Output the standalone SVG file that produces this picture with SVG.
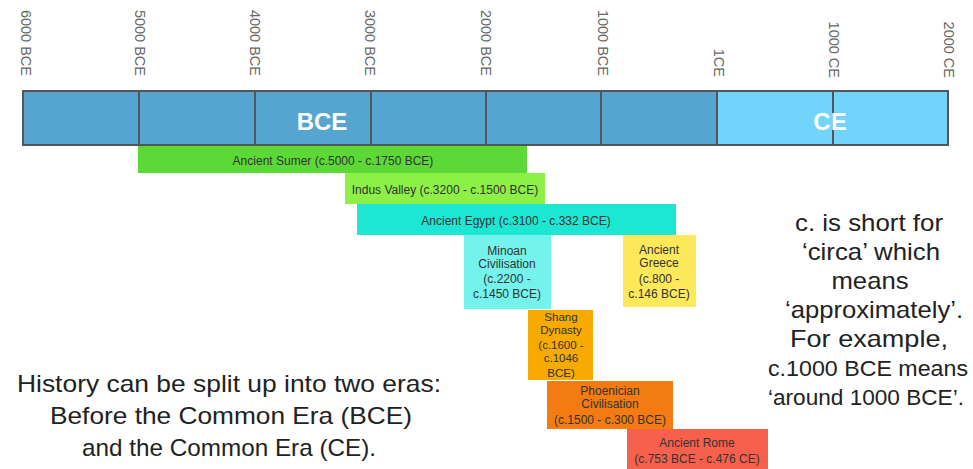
<svg xmlns="http://www.w3.org/2000/svg" width="973" height="469" viewBox="0 0 973 469">
<style>
text{font-family:"Liberation Sans",Arial,sans-serif}
.tick{font-size:14.5px;fill:#666;text-anchor:end}
.div{stroke:#555;stroke-width:2}
.era{font-size:24px;font-weight:bold;fill:#fff;text-anchor:middle}
.lbl{font-size:12px;fill:#333;text-anchor:middle}
.sm{font-size:11.5px}
.note{font-size:24px;fill:#222;text-anchor:middle}
.tight{font-size:22.5px}
</style>
<rect width="973" height="469" fill="#fff"/>
<g id="ticks">
<text class="tick" transform="translate(21,76) rotate(90)">6000 BCE</text>
<text class="tick" transform="translate(135,76) rotate(90)">5000 BCE</text>
<text class="tick" transform="translate(250,76) rotate(90)">4000 BCE</text>
<text class="tick" transform="translate(365,76) rotate(90)">3000 BCE</text>
<text class="tick" transform="translate(481,76) rotate(90)">2000 BCE</text>
<text class="tick" transform="translate(598,76) rotate(90)">1000 BCE</text>
<text class="tick" transform="translate(714,77) rotate(90)">1CE</text>
<text class="tick" transform="translate(829,78) rotate(90)">1000 CE</text>
<text class="tick" transform="translate(944,78) rotate(90)">2000 CE</text>
</g>
<g id="timeline">
<rect x="23" y="91" width="694" height="54" fill="#55a5d0"/>
<rect x="717" y="91" width="231" height="54" fill="#72d4fa"/>
<rect x="23" y="91" width="925" height="54" fill="none" stroke="#555" stroke-width="2"/>
<line class="div" x1="139" y1="91" x2="139" y2="145"/>
<line class="div" x1="255" y1="91" x2="255" y2="145"/>
<line class="div" x1="371" y1="91" x2="371" y2="145"/>
<line class="div" x1="486" y1="91" x2="486" y2="145"/>
<line class="div" x1="601" y1="91" x2="601" y2="145"/>
<line class="div" x1="717" y1="91" x2="717" y2="145"/>
<line class="div" x1="833" y1="91" x2="833" y2="145"/>
<text class="era" x="322" y="130">BCE</text>
<text class="era" x="830" y="130">CE</text>
</g>
<g id="sumer">
<rect x="138" y="146" width="389" height="27" fill="#5cd936"/>
<text class="lbl" x="333" y="165">Ancient Sumer (c.5000 - c.1750 BCE)</text>
</g>
<g id="indus">
<rect x="345" y="173" width="200" height="31" fill="#8cf046"/>
<text class="lbl" x="445" y="194">Indus Valley (c.3200 - c.1500 BCE)</text>
</g>
<g id="egypt">
<rect x="357" y="204" width="319" height="31" fill="#1de6d2"/>
<text class="lbl" x="516" y="225">Ancient Egypt (c.3100 - c.332 BCE)</text>
</g>
<g id="minoan">
<rect x="464" y="235" width="87" height="74" fill="#74f2ec"/>
<text class="lbl" x="507" y="255">Minoan</text>
<text class="lbl" x="507" y="268">Civilisation</text>
<text class="lbl" x="507" y="283">(c.2200 -</text>
<text class="lbl" x="507" y="298">c.1450 BCE)</text>
</g>
<g id="greece">
<rect x="623" y="235" width="73" height="72" fill="#fde95a"/>
<text class="lbl" x="659" y="254">Ancient</text>
<text class="lbl" x="659" y="267">Greece</text>
<text class="lbl" x="659" y="283">(c.800 -</text>
<text class="lbl" x="659" y="298">c.146 BCE)</text>
</g>
<g id="shang">
<rect x="528" y="310" width="65" height="70" fill="#f7aa00"/>
<text class="lbl sm" x="561" y="321">Shang</text>
<text class="lbl sm" x="561" y="334">Dynasty</text>
<text class="lbl sm" x="561" y="349">(c.1600 -</text>
<text class="lbl sm" x="561" y="362">c.1046</text>
<text class="lbl sm" x="561" y="377">BCE)</text>
</g>
<g id="phoenician">
<rect x="547" y="381" width="126" height="48" fill="#f47a12"/>
<text class="lbl" x="610" y="395">Phoenician</text>
<text class="lbl" x="610" y="408">Civilisation</text>
<text class="lbl" x="610" y="424">(c.1500 - c.300 BCE)</text>
</g>
<g id="rome">
<rect x="627" y="429" width="141" height="40" fill="#f8604e"/>
<text class="lbl" x="697" y="447">Ancient Rome</text>
<text class="lbl" x="697" y="463">(c.753 BCE - c.476 CE)</text>
</g>
<g id="eras-note">
<text class="note" x="229" y="392" textLength="424" lengthAdjust="spacingAndGlyphs">History can be split up into two eras:</text>
<text class="note" x="231" y="424" textLength="362" lengthAdjust="spacingAndGlyphs">Before the Common Era (BCE)</text>
<text class="note" x="229" y="456" textLength="294" lengthAdjust="spacingAndGlyphs">and the Common Era (CE).</text>
</g>
<g id="circa-note">
<text class="note" x="869" y="231" textLength="148" lengthAdjust="spacingAndGlyphs">c. is short for</text>
<text class="note" x="871" y="260" textLength="138" lengthAdjust="spacingAndGlyphs">‘circa’ which</text>
<text class="note" x="870" y="289" textLength="77" lengthAdjust="spacingAndGlyphs">means</text>
<text class="note" x="874" y="318" textLength="178" lengthAdjust="spacingAndGlyphs">‘approximately’.</text>
<text class="note" x="869" y="347" textLength="158" lengthAdjust="spacingAndGlyphs">For example,</text>
<text class="note tight" x="868" y="376" textLength="200" lengthAdjust="spacingAndGlyphs">c.1000 BCE means</text>
<text class="note tight" x="866" y="405" textLength="196" lengthAdjust="spacingAndGlyphs">‘around 1000 BCE’.</text>
</g>
</svg>
